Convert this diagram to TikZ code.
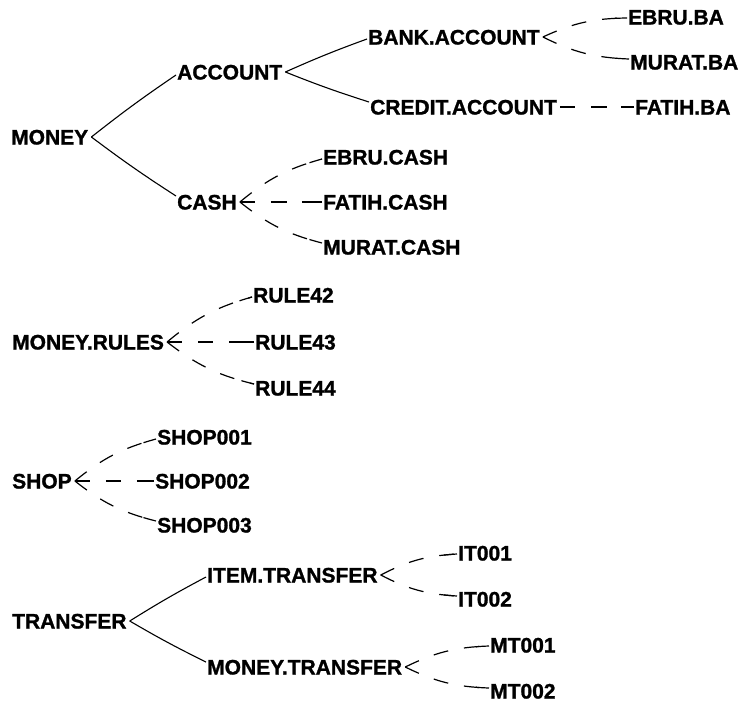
\documentclass[tikz,border=0pt]{standalone}
\usepackage{fontspec}
\setmainfont{Liberation Sans}
\newfontfamily\dgfam[FakeBold=1.2]{Liberation Sans Bold}
\usetikzlibrary{calc}
\newcommand\dgfont{\fontsize{21pt}{21pt}\selectfont\dgfam}
% leaf connector: dashed from parent, plus a dash right at the child end
\newcommand\leafconn[5]{%
  \draw[leaflink] ($(#1.east)+(3,0)$) to[#4] ($(#2.west)+(-1,#3)$);
  \draw[leaftail] ($(#2.west)+(-1,#3)$) to[#5] ($(#1.east)+(3,0)$);}
\begin{document}
\begin{tikzpicture}[x=1pt,y=1pt,
  lbl/.style={font=\dgfont, anchor=west, inner sep=0pt, text height=15pt, text depth=0pt},
  innerlink/.style={line width=1.1pt},
  leaflink/.style={line width=1.2pt, dash pattern=on 15pt off 16pt},
  leaftail/.style={line width=1.2pt, dash pattern=on 13pt off 2000pt}]
\fill[white] (0,0) rectangle (743,-704);
\path[use as bounding box] (0,0) rectangle (743,-704);

% MONEY tree
\node[lbl] (money)     at (11,-137)  {MONEY};
\node[lbl] (account)   at (177,-72)  {ACCOUNT};
\node[lbl] (cash)      at (177,-202) {CASH};
\node[lbl] (bank)      at (368,-37)  {BANK.ACCOUNT};
\node[lbl] (credit)    at (370,-107) {CREDIT.ACCOUNT};
\node[lbl] (ebruba)    at (628,-17)  {EBRU.BA};
\node[lbl] (muratba)   at (630,-62)  {MURAT.BA};
\node[lbl] (fatihba)   at (635,-107) {FATIH.BA};
\node[lbl] (ebrucash)  at (323,-157) {EBRU.CASH};
\node[lbl] (fatihcash) at (323,-202) {FATIH.CASH};
\node[lbl] (muratcash) at (323,-247) {MURAT.CASH};

% MONEY.RULES
\node[lbl] (rules) at (12,-342)  {MONEY.RULES};
\node[lbl] (r42)   at (253,-295) {RULE42};
\node[lbl] (r43)   at (255,-342) {RULE43};
\node[lbl] (r44)   at (255,-388) {RULE44};

% SHOP
\node[lbl] (shop) at (12,-481)  {SHOP};
\node[lbl] (s1)   at (157,-437) {SHOP001};
\node[lbl] (s2)   at (155,-481) {SHOP002};
\node[lbl] (s3)   at (157,-525) {SHOP003};

% TRANSFER
\node[lbl] (transfer) at (12,-621)  {TRANSFER};
\node[lbl] (item)     at (207,-575) {ITEM.TRANSFER};
\node[lbl] (mtrans)   at (207,-667) {MONEY.TRANSFER};
\node[lbl] (it1)      at (458,-553) {IT001};
\node[lbl] (it2)      at (458,-599) {IT002};
\node[lbl] (mt1)      at (490,-645) {MT001};
\node[lbl] (mt2)      at (490,-691) {MT002};

% inner connectors
\draw[innerlink] ($(money.east)+(3,0)$) to[bend left=2] ($(account.west)+(-1,-3)$);
\draw[innerlink] ($(money.east)+(3,0)$) to[bend right=2] ($(cash.west)+(-1,6)$);
\draw[innerlink] ($(account.east)+(3,0)$) to[bend left=2] ($(bank.west)+(-1,-2)$);
\draw[innerlink] ($(account.east)+(3,0)$) to[bend right=2] ($(credit.west)+(-1,5)$);
\draw[innerlink] ($(transfer.east)+(3,0)$) to[bend left=2] ($(item.west)+(-1,-2)$);
\draw[innerlink] ($(transfer.east)+(3,0)$) to[bend right=2] ($(mtrans.west)+(-1,5)$);

% leaf connectors
\leafconn{bank}{ebruba}{-1}{bend left=12}{bend right=12}
\leafconn{bank}{muratba}{3}{bend right=12}{bend left=12}
\leafconn{credit}{fatihba}{0}{bend left=0}{bend left=0}

\leafconn{cash}{ebrucash}{-2}{bend left=12}{bend right=12}
\leafconn{cash}{fatihcash}{0}{bend left=0}{bend left=0}
\leafconn{cash}{muratcash}{4}{bend right=12}{bend left=12}

\leafconn{rules}{r42}{-2}{bend left=12}{bend right=12}
\leafconn{rules}{r43}{0}{bend left=0}{bend left=0}
\leafconn{rules}{r44}{4}{bend right=12}{bend left=12}

\leafconn{shop}{s1}{-2}{bend left=12}{bend right=12}
\leafconn{shop}{s2}{0}{bend left=0}{bend left=0}
\leafconn{shop}{s3}{4}{bend right=12}{bend left=12}

\leafconn{item}{it1}{-1}{bend left=12}{bend right=12}
\leafconn{item}{it2}{3}{bend right=12}{bend left=12}
\leafconn{mtrans}{mt1}{-1}{bend left=12}{bend right=12}
\leafconn{mtrans}{mt2}{3}{bend right=12}{bend left=12}
\end{tikzpicture}
\end{document}
